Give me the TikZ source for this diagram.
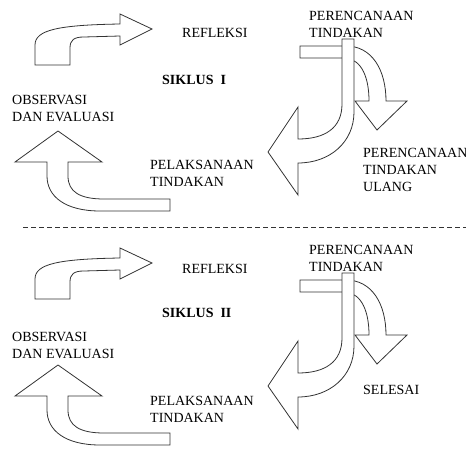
\documentclass[tikz,border=0pt]{standalone}
\usepackage{fontspec}
\setmainfont{Liberation Serif}
\begin{document}
\begin{tikzpicture}[x=1pt,y=-1pt,
  blockarrow/.style={draw=black!80, line width=0.8pt, fill=white, line join=miter},
  lbl/.style={anchor=north west, inner sep=0pt, align=left, font=\fontsize{14}{17}\selectfont},
  cycletitle/.style={lbl, font=\fontsize{14}{17}\selectfont\bfseries},
  separator/.style={draw=black!80, line width=0.8pt, dash pattern=on 5pt off 3pt},
  cyclearrows/.pic={
    % bent arrow from observation up to reflection
    \draw[blockarrow] (35,65) -- (35,45) .. controls (35,30) and (58,25) .. (120,24)
      -- (120,14) -- (152,29) -- (120,45) -- (120,36) -- (84,37)
      .. controls (74,37) and (70,40) .. (70,48) -- (70,65) -- cycle;
    % bent arrow from action up to observation
    \draw[blockarrow] (58,131) -- (102,162) -- (68,162) -- (68,176)
      .. controls (68,192) and (80,199) .. (104,199) -- (170,199) -- (170,211)
      -- (100,211) .. controls (66,211) and (47,197) .. (47,176) -- (47,162)
      -- (15,162) -- cycle;
    % curved arrow turning down to the right, partly hidden by the bar
    \draw[blockarrow] (300,46) -- (346,46) .. controls (372,46) and (386,70) .. (386,101)
      -- (407,101) -- (377,130) -- (355,101) -- (369,101)
      .. controls (369,78) and (362,60) .. (346,58) -- (300,58) -- cycle;
    % bar coming down from planning and turning left to action
    \draw[blockarrow] (342,39) -- (354,39) -- (354,112)
      .. controls (354,142) and (330,163) .. (298,163) -- (298,195) -- (268,152)
      -- (298,107) -- (298,139) .. controls (325,139) and (342,128) .. (342,104) -- cycle;
  }]
\useasboundingbox (0,0) rectangle (466,452);

% first cycle
\pic (ca) at (0,0) {cyclearrows};
\node[lbl] (plan1) at (309,11) {PERENCANAAN\\TINDAKAN};
\node[lbl] (refl1) at (182,28) {REFLEKSI};
\node[cycletitle] (title1) at (162,75) {SIKLUS\ \ I};
\node[lbl] (obs1) at (12,95) {OBSERVASI\\DAN EVALUASI};
\node[lbl] (act1) at (150,160) {PELAKSANAAN\\TINDAKAN};
\node[lbl] (replan) at (363,148) {PERENCANAAN\\TINDAKAN\\ULANG};

% separator between the cycles
\coordinate (sepl) at (23,227);
\coordinate (sepr) at (466,227);
\draw[separator] (sepl) -- (sepr);

% second cycle
\pic (cb) at (0,234) {cyclearrows};
\node[lbl] (plan2) at (309,245) {PERENCANAAN\\TINDAKAN};
\node[lbl] (refl2) at (182,264) {REFLEKSI};
\node[cycletitle] (title2) at (162,308) {SIKLUS\ \ II};
\node[lbl] (obs2) at (12,332) {OBSERVASI\\DAN EVALUASI};
\node[lbl] (act2) at (150,396) {PELAKSANAAN\\TINDAKAN};
\node[lbl] (done) at (363,385) {SELESAI};
\end{tikzpicture}
\end{document}
